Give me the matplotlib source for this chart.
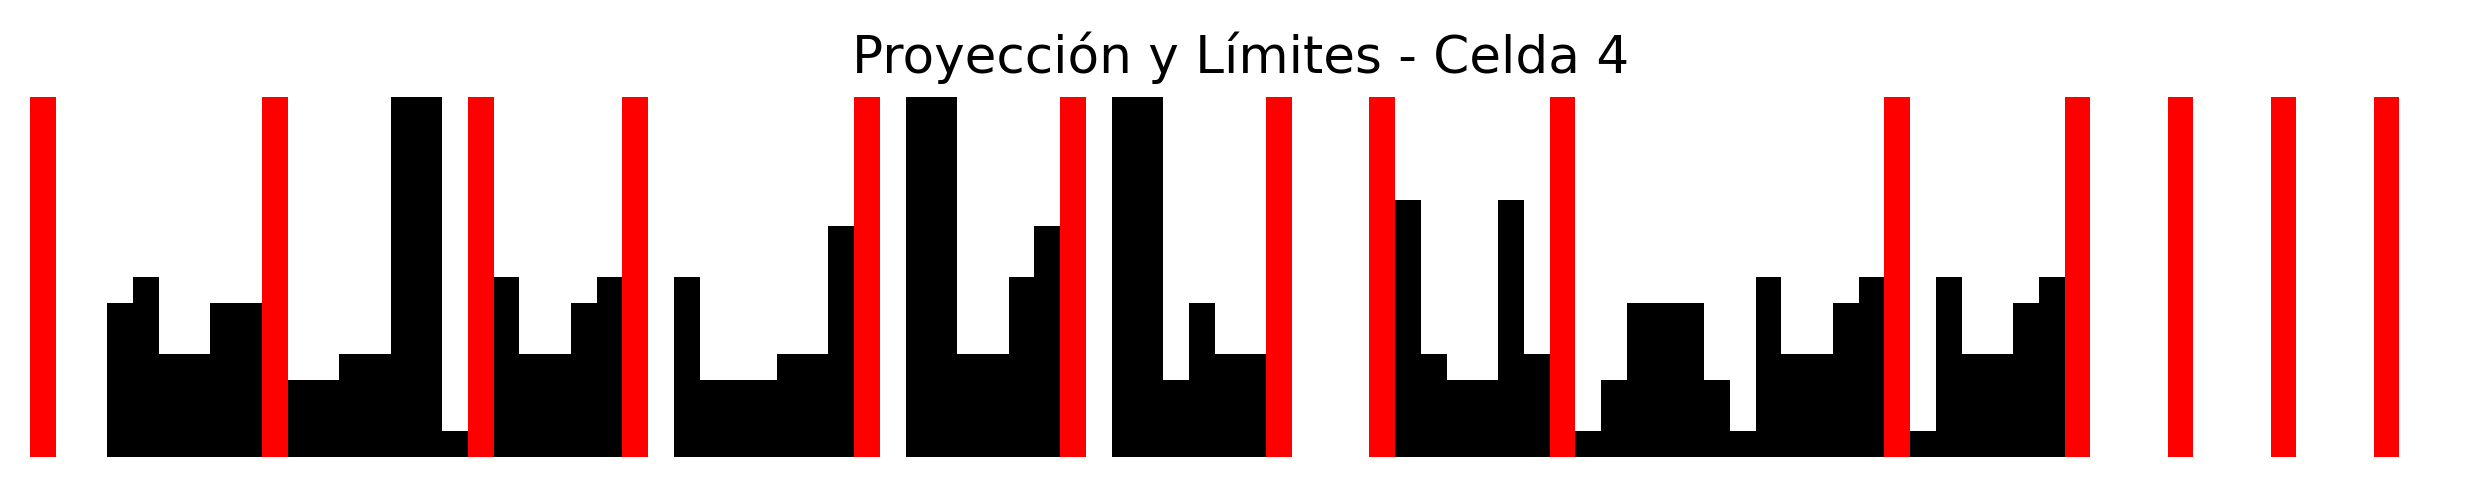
import numpy as np
import matplotlib
matplotlib.use("Agg")
import matplotlib.pyplot as plt

# proyeccion vertical de la celda (conteo de pixeles por columna)
proyeccion = [0, 0, 0, 6, 7, 4, 4, 6, 6, 0,
              3, 3, 4, 4, 14, 14, 1, 0, 7, 4,
              4, 6, 7, 0, 0, 7, 3, 3, 3, 4,
              4, 9, 0, 0, 14, 14, 4, 4, 7, 9,
              0, 0, 14, 14, 3, 6, 4, 4, 0, 0,
              0, 0, 0, 10, 4, 3, 3, 10, 4, 0,
              1, 3, 6, 6, 6, 3, 1, 7, 4, 4,
              6, 7, 0, 1, 7, 4, 4, 6, 7, 0,
              0, 0, 0, 0, 0, 0, 0, 0, 0, 0,
              0, 0, 0, 0]

# columnas marcadas como limite entre caracteres
limites = [0, 9, 17, 23, 32, 40, 48, 52, 59, 72, 79, 83, 87, 91]

titulo = "Proyección y Límites - Celda 4"


def plot_proyeccion(proy, lims, title):
    W, H, dpi = 2481, 488, 300
    fig = plt.figure(figsize=(W / dpi, H / dpi), dpi=dpi)
    ax = fig.add_axes([30 / W, 31 / H, 2421 / W, 360 / H])

    xs = np.arange(len(proy))
    ymax = max(proy)
    ax.bar(xs, proy, width=1, color='black')
    ax.bar(lims, [ymax] * len(lims), width=1, color='red')

    ax.set_xlim(-0.5, len(proy) - 0.5)
    ax.set_ylim(0, ymax)
    ax.set_title(title, fontsize=12.4, pad=5.8)
    ax.axis('off')

    fig.savefig("out.png", dpi=dpi, facecolor='white')


if __name__ == "__main__":
    plot_proyeccion(proyeccion, limites, titulo)
